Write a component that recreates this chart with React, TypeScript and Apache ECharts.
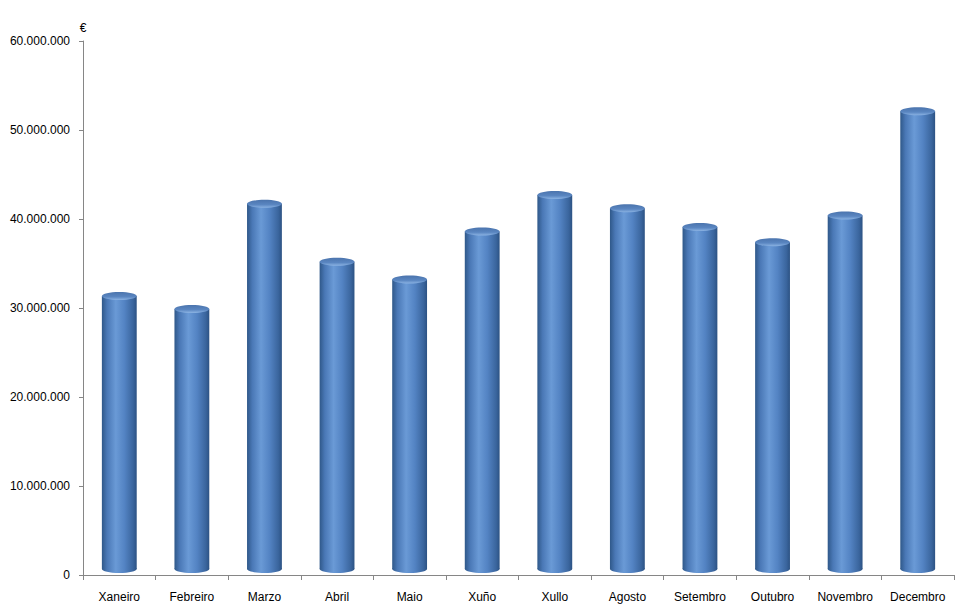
import React, { useEffect, useRef } from "react";
import * as echarts from "echarts";

const months = ["Xaneiro", "Febreiro", "Marzo", "Abril", "Maio", "Xuño", "Xullo", "Agosto", "Setembro", "Outubro", "Novembro", "Decembro"];
const values = [31350000, 29900000, 41700000, 35200000, 33200000, 38600000, 42700000, 41200000, 39100000, 37400000, 40400000, 52100000];
const yTicks = { min: 0, max: 60000000, interval: 10000000 };

const fmt = (v: number) => String(v).replace(/\B(?=(\d{3})+(?!\d))/g, ".");

export default function App() {
  const ref = useRef<HTMLDivElement>(null);
  useEffect(() => {
    if (!ref.current) return;
    const chart = echarts.init(ref.current, undefined, { renderer: "svg" });
    const bodyGrad = () =>
      new echarts.graphic.LinearGradient(0, 0, 1, 0, [
        { offset: 0, color: "#2f5889" },
        { offset: 0.15, color: "#4a78b6" },
        { offset: 0.4, color: "#6a9ad6" },
        { offset: 0.65, color: "#5383c3" },
        { offset: 0.9, color: "#3a659d" },
        { offset: 1, color: "#2c5283" },
      ]);
    const topGrad = () =>
      new echarts.graphic.LinearGradient(0, 0, 0, 1, [
        { offset: 0, color: "#4b74ad" },
        { offset: 0.6, color: "#5a86c1" },
        { offset: 1, color: "#8bb3e3" },
      ]);
    chart.setOption({
      animation: false,
      grid: { left: 83, right: 10, top: 41, bottom: 37, containLabel: false },
      xAxis: {
        type: "category",
        data: months,
        axisLine: { lineStyle: { color: "#868686" } },
        axisTick: { show: true, length: 5, lineStyle: { color: "#868686" } },
        axisLabel: { color: "#000", fontFamily: "Liberation Sans", fontSize: 12, margin: 16 },
      },
      yAxis: {
        type: "value",
        min: yTicks.min,
        max: yTicks.max,
        interval: yTicks.interval,
        name: "€",
        nameLocation: "end",
        nameGap: 13,
        nameTextStyle: { color: "#000", fontFamily: "Liberation Sans", fontSize: 12, verticalAlign: "middle", align: "center" },
        axisLine: { show: true, lineStyle: { color: "#868686" } },
        axisTick: { show: true, length: 4, lineStyle: { color: "#868686" } },
        splitLine: { show: false },
        axisLabel: { color: "#000", fontFamily: "Liberation Sans", fontSize: 12, margin: 13, formatter: (v: number) => fmt(v) },
      },
      series: [
        {
          type: "custom",
          data: values.map((v, i) => [i, v]),
          renderItem: (params: any, api: any) => {
            const idx = api.value(0);
            const val = api.value(1);
            const top = api.coord([idx, val]);
            const base = api.coord([idx, 0]);
            const band = api.size([1, 0])[0];
            const w = band * 0.48;
            const rx = w / 2;
            const ry = 4;
            const cx = top[0];
            const yTop = top[1];
            const yBase = base[1] - 6;
            return {
              type: "group",
              children: [
                { type: "ellipse", shape: { cx, cy: yBase, rx, ry }, style: { fill: bodyGrad() } },
                { type: "rect", shape: { x: cx - rx, y: yTop, width: w, height: yBase - yTop }, style: { fill: bodyGrad() } },
                { type: "ellipse", shape: { cx, cy: yTop, rx, ry }, style: { fill: topGrad() } },
              ],
            };
          },
        },
      ],
    });
    return () => chart.dispose();
  }, []);
  return <div ref={ref} style={{ width: 964, height: 612, position: "absolute", left: 0, top: 0, background: "#fff" }} />;
}
